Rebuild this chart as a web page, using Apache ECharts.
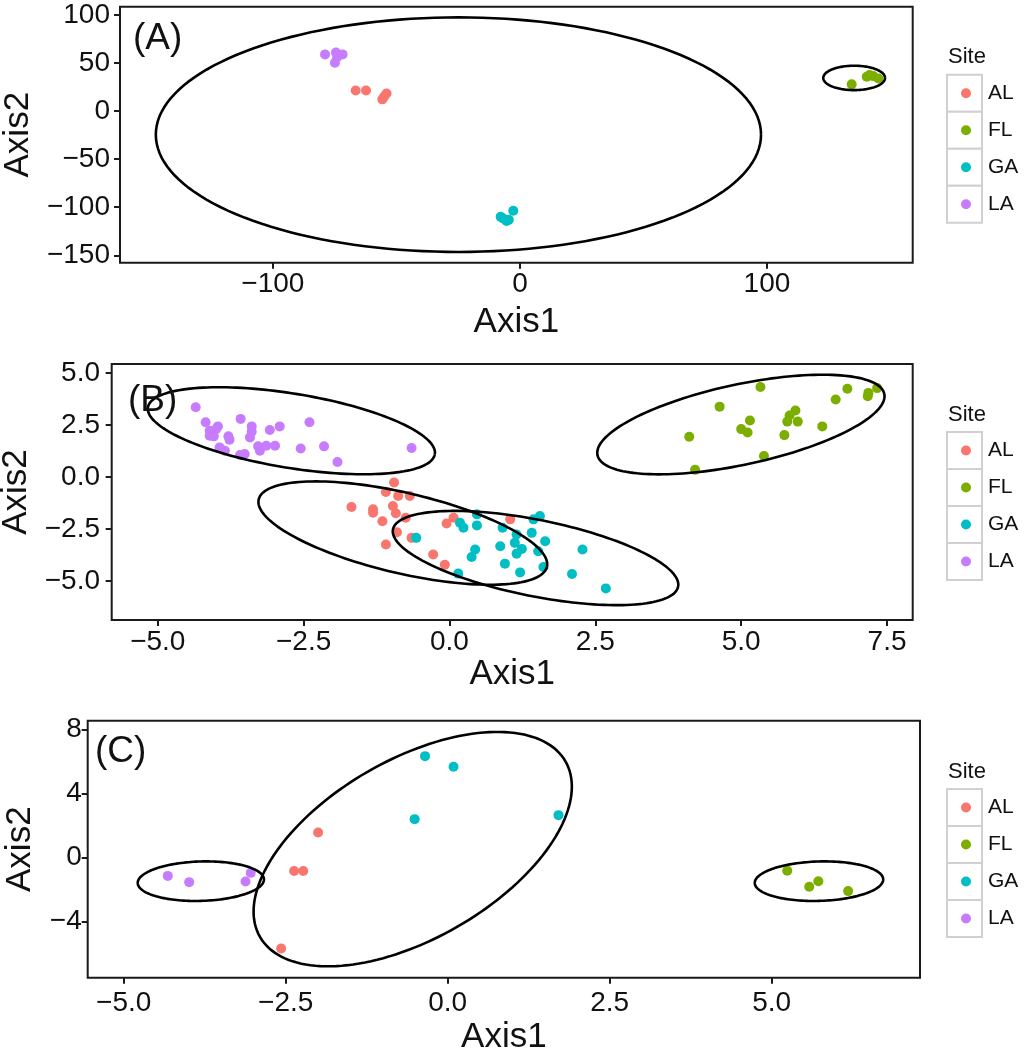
<!DOCTYPE html>
<html><head><meta charset="utf-8">
<script src="https://cdn.jsdelivr.net/npm/echarts@6/dist/echarts.min.js"></script>
<style>html,body{margin:0;padding:0;background:#fff}#c{width:1025px;height:1050px}</style>
</head><body><div id="c"></div>
<script>
// ---- categories ----
const sites = ['AL', 'FL', 'GA', 'LA'];
const siteColors = ['#F8766D', '#7CAE00', '#00BFC4', '#C77CFF'];
const panelLabels = ['(A)', '(B)', '(C)'];
const legendTitle = 'Site';

// ---- panel A points ----
const aAL = [[-66.5,21.5],[-62.3,21.5],[-55.7,12.2],[-54.0,18.4],[-55.0,15.0]];
const aFL = [[134.3,27.8],[140.4,35.7],[143.0,36.4],[145.1,34.0],[141.5,37.5]];
const aGA = [[-7.8,-110.0],[-5.4,-114.2],[-2.7,-103.7],[-6.8,-111.7],[-4.5,-113.0]];
const aLA = [[-78.9,59.0],[-74.5,61.0],[-71.8,59.0],[-74.9,50.3],[-74.0,56.0]];

// ---- panel B points ----
const bAL = [[-0.95,-0.27],[-1.09,-0.72],[-0.88,-0.92],[-0.68,-0.92],[-1.68,-1.45],[-1.31,-1.56],[-1.31,-1.72],[-0.97,-1.40],[-0.92,-1.75],[-0.75,-1.96],[-1.15,-2.13],[-0.05,-2.24],[0.07,-1.96],[1.04,-2.04],[-0.90,-2.66],[-0.65,-2.93],[-1.09,-3.25],[-0.28,-3.73],[-0.08,-4.22]];
const bFL = [[4.11,1.93],[4.21,0.34],[4.63,3.38],[5.00,2.30],[5.11,2.14],[5.15,2.71],[5.33,4.32],[5.39,1.01],[5.74,2.01],[5.79,2.66],[5.83,2.95],[5.93,3.19],[5.97,2.66],[6.39,2.43],[6.62,3.72],[6.82,4.24],[7.17,3.88],[7.18,4.04],[7.33,4.27]];
const bGA = [[-0.57,-2.93],[0.18,-2.20],[0.24,-2.44],[0.47,-1.80],[0.47,-2.33],[0.91,-2.44],[1.15,-2.77],[1.41,-2.69],[1.44,-2.04],[1.55,-1.88],[1.64,-3.09],[1.12,-3.17],[0.87,-3.33],[1.24,-3.46],[1.15,-3.69],[0.44,-3.49],[0.38,-3.85],[1.52,-3.57],[0.95,-4.17],[1.61,-4.33],[1.21,-4.59],[0.15,-4.65],[2.28,-3.49],[2.10,-4.67],[2.68,-5.36]];
const bLA = [[-4.35,3.35],[-4.18,2.63],[-3.97,2.43],[-4.11,2.22],[-4.04,1.95],[-3.79,1.95],[-3.77,1.79],[-3.94,1.42],[-3.85,1.26],[-3.58,2.79],[-3.39,2.43],[-3.39,2.17],[-3.42,1.90],[-3.08,2.26],[-2.91,2.43],[-2.40,2.63],[-3.28,1.47],[-3.25,1.26],[-3.14,1.50],[-2.99,1.50],[-2.55,1.37],[-2.15,1.47],[-1.92,0.72],[-0.65,1.39],[-3.59,1.05],[-3.51,1.10],[-4.11,1.98],[-4.00,2.30]];

// ---- panel C points ----
const cAL = [[-2.00,1.57],[-2.37,-0.84],[-2.23,-0.84],[-2.57,-5.67]];
const cFL = [[5.24,-0.82],[5.58,-1.82],[5.72,-1.47],[6.18,-2.09]];
const cGA = [[-0.35,6.33],[0.09,5.67],[-0.51,2.40],[1.71,2.65]];
const cLA = [[-4.32,-1.14],[-3.99,-1.53],[-3.12,-1.49],[-3.04,-0.95]];

// ---- ellipses: [centerX, centerY, axis1X, axis1Y, axis2X, axis2Y] (data units) ----
const aEllipses = [[-24.9,-24.5,122.5,0,0,122.0],[135.3,34.5,12.5,0,0,12.7]];
const bEllipses = [[-2.71,2.22,2.459,-1.128,-0.102,-1.763],[-0.80,-2.70,2.47,-1.62,-0.156,-1.884],[1.475,-3.90,2.444,-1.377,-0.127,-1.80],[4.995,2.52,2.458,1.473,0.142,-1.889]];
const cEllipses = [[-3.81,-1.47,0.974,0.106,0,-1.23],[-0.54,0.53,2.357,5.477,0.690,-4.841],[5.73,-1.47,0.991,0.106,0,-1.23]];

// ---- axes: ranges and tick values ----
const aXRange = [-161.9, 159.0], aYRange = [-157.7, 108.6];
const bXRange = [-5.79, 7.94],   bYRange = [-6.88, 5.43];
const cXRange = [-5.556, 7.289], cYRange = [-7.49, 8.54];
const aXTicks = [-100, 0, 100], aYTicks = [-150, -100, -50, 0, 50, 100];
const bXTicks = [-5, -2.5, 0, 2.5, 5, 7.5], bYTicks = [-5, -2.5, 0, 2.5, 5];
const cXTicks = [-5, -2.5, 0, 2.5, 5], cYTicks = [-4, 0, 4, 8];
const xName = 'Axis1', yName = 'Axis2';

// ---- layout / style ----
const FONT = 'Liberation Sans, Arial, Helvetica, sans-serif';
const panels = [
  { pts: [aAL, aFL, aGA, aLA], ell: aEllipses, xr: aXRange, yr: aYRange, xt: aXTicks, yt: aYTicks, xdec: 0, ydec: 0,
    grid: { left: 120, top: 6.7, width: 792.7, height: 256 }, xLabM: 8, xNameGap: 42, yLabM: 10, yNameGap: 82,
    legTop: 74.7, siteY: 57.4, lab: [133, 39] },
  { pts: [bAL, bFL, bGA, bLA], ell: bEllipses, xr: bXRange, yr: bYRange, xt: bXTicks, yt: bYTicks, xdec: 1, ydec: 1,
    grid: { left: 111.7, top: 364, width: 801, height: 256 }, xLabM: 8, xNameGap: 37, yLabM: 11.7, yNameGap: 74,
    legTop: 432, siteY: 414.7, lab: [128, 400.5] },
  { pts: [cAL, cFL, cGA, cLA], ell: cEllipses, xr: cXRange, yr: cYRange, xt: cXTicks, yt: cYTicks, xdec: 1, ydec: 0,
    grid: { left: 87.7, top: 720.7, width: 832.3, height: 257 }, xLabM: 12, xNameGap: 42, yLabM: 6, yNameGap: 50,
    legTop: 789, siteY: 771.7, lab: [95, 751.7] }
];

function fmt(v, dec) { return v.toFixed(dec).replace('-', '\u2212'); }

function ellipseRender(params, api) {
  const cx = api.value(0), cy = api.value(1), ux = api.value(2), uy = api.value(3), vx = api.value(4), vy = api.value(5);
  const pts = [];
  const N = 160;
  for (let k = 0; k <= N; k++) {
    const t = 2 * Math.PI * k / N;
    pts.push(api.coord([cx + Math.cos(t) * ux + Math.sin(t) * vx, cy + Math.cos(t) * uy + Math.sin(t) * vy]));
  }
  return { type: 'polyline', shape: { points: pts }, style: { stroke: '#000', lineWidth: 2.6, fill: null } };
}

const grids = [], xAxes = [], yAxes = [], series = [], legends = [], graphics = [];
panels.forEach((p, i) => {
  grids.push(Object.assign({ show: true, borderColor: '#1a1a1a', borderWidth: 2, backgroundColor: '#fff', outerBoundsMode: 'none', containLabel: false }, p.grid));
  const tickStyle = { show: true, inside: false, length: 6, lineStyle: { color: '#1a1a1a', width: 2 } };
  xAxes.push({
    type: 'value', gridIndex: i, min: p.xr[0], max: p.xr[1], position: 'bottom',
    name: xName, nameLocation: 'middle', nameGap: p.xNameGap,
    nameTextStyle: { fontFamily: FONT, fontSize: 35, color: '#111' },
    axisLine: { show: false, onZero: false }, splitLine: { show: false },
    axisTick: Object.assign({ customValues: p.xt }, tickStyle),
    axisLabel: { customValues: p.xt, margin: p.xLabM, fontFamily: FONT, fontSize: 28, color: '#111', formatter: v => fmt(v, p.xdec) }
  });
  yAxes.push({
    type: 'value', gridIndex: i, min: p.yr[0], max: p.yr[1], position: 'left',
    name: yName, nameLocation: 'middle', nameGap: p.yNameGap,
    nameTextStyle: { fontFamily: FONT, fontSize: 35, color: '#111' },
    axisLine: { show: false, onZero: false }, splitLine: { show: false },
    axisTick: Object.assign({ customValues: p.yt }, tickStyle),
    axisLabel: { customValues: p.yt, margin: p.yLabM, fontFamily: FONT, fontSize: 28, color: '#111', formatter: v => fmt(v, p.ydec) }
  });
  series.push({
    type: 'custom', xAxisIndex: i, yAxisIndex: i, data: p.ell, renderItem: ellipseRender,
    encode: { x: 0, y: 1 }, clip: true, silent: true, z: 3
  });
  sites.forEach((s, j) => {
    series.push({
      type: 'scatter', name: s, xAxisIndex: i, yAxisIndex: i, data: p.pts[j],
      symbol: 'circle', symbolSize: 10, itemStyle: { color: siteColors[j], opacity: 1 }, z: 2, silent: true
    });
  });
  legends.push({
    orient: 'vertical', left: 961, top: p.legTop, padding: 0, itemGap: 0,
    itemWidth: 10, itemHeight: 10, icon: 'circle', data: sites, selectedMode: false,
    textStyle: { fontFamily: FONT, fontSize: 21, color: '#111', lineHeight: 37, padding: [0, 0, 0, 12] }
  });
  sites.forEach((s, j) => {
    graphics.push({ type: 'rect', z: 1, shape: { x: 947, y: p.legTop + j * 37, width: 35, height: 37 },
      style: { fill: '#fff', stroke: '#d0d0d0', lineWidth: 2 } });
  });
  graphics.push({ type: 'text', z: 5, style: { text: legendTitle, x: 948, y: p.siteY, font: '22px ' + FONT, fill: '#111', align: 'left', verticalAlign: 'middle' } });
  graphics.push({ type: 'text', z: 5, style: { text: panelLabels[i], x: p.lab[0], y: p.lab[1], font: '37px ' + FONT, fill: '#111', align: 'left', verticalAlign: 'middle' } });
});

const chart = echarts.init(document.getElementById('c'), null, { renderer: 'canvas' });
chart.setOption({
  animation: false,
  backgroundColor: '#fff',
  grid: grids, xAxis: xAxes, yAxis: yAxes, series: series, legend: legends, graphic: graphics
});
</script></body></html>
